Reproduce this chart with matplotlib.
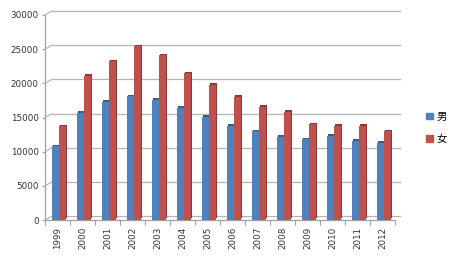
import numpy as np
import matplotlib
matplotlib.use("Agg")
import matplotlib.pyplot as plt
from matplotlib.transforms import ScaledTranslation
from matplotlib.patches import Patch

years = ["1999", "2000", "2001", "2002", "2003", "2004", "2005",
         "2006", "2007", "2008", "2009", "2010", "2011", "2012"]
male = [10800, 15700, 17300, 18100, 17600, 16400, 15100,
        13800, 13000, 12200, 11800, 12300, 11600, 11300]
female = [13700, 21100, 23200, 25400, 24100, 21500, 19800,
          18000, 16600, 15800, 14000, 13800, 13800, 13000]
yticks = [0, 5000, 10000, 15000, 20000, 25000, 30000]
labels = ["男", "女"]

fig = plt.figure(figsize=(4.5, 2.61), dpi=100)
ax = fig.add_axes([45 / 450, 1 - 220 / 261, 350 / 450, 205 / 261])
ax.set_xlim(-0.5, len(years) - 0.5)
ax.set_ylim(0, 30000)

# back wall gridlines (shifted up/right for the 3d look)
wall = ax.get_yaxis_transform() + ScaledTranslation(7 / 100, 4 / 100, fig.dpi_scale_trans)
for v in yticks:
    ax.plot([0, 1.0 - 2 / 350], [v, v], color="#b4b4b4", lw=0.9,
            transform=wall, clip_on=False, zorder=0)
    ax.annotate("", xy=(0, v), xycoords=ax.get_yaxis_transform(),
                xytext=(7, 4), textcoords="offset pixels",
                arrowprops=dict(arrowstyle="-", color="#b4b4b4", lw=0.9,
                                shrinkA=0, shrinkB=0))

x = np.arange(len(years))
w = 0.28
dx, dy = 0.07, 230
ax.bar(x - 0.1 + dx, male, w, bottom=dy, color="#385d8a", zorder=2)
ax.bar(x - 0.1, male, w, color="#4f81bd", zorder=3)
ax.bar(x + 0.18 + dx, female, w, bottom=dy, color="#8c3836", zorder=4)
ax.bar(x + 0.18, female, w, color="#c0504d", zorder=5)

for s in ["top", "right"]:
    ax.spines[s].set_visible(False)
for s in ["left", "bottom"]:
    ax.spines[s].set_color("#a0a0a0")
    ax.spines[s].set_linewidth(0.9)

ax.set_yticks(yticks)
ax.set_yticklabels([str(v) for v in yticks])
ax.tick_params(axis="y", length=2.5, width=0.8, color="#a0a0a0",
               labelsize=6.3, labelcolor="#333333", pad=2)
ax.set_xticks(x)
ax.set_xticklabels(years, rotation=90)
ax.tick_params(axis="x", which="major", length=0, labelsize=6.3,
               labelcolor="#333333", pad=5)
ax.set_xticks(np.arange(-0.5, len(years)), minor=True)
ax.tick_params(axis="x", which="minor", length=3.5, width=0.8, color="#a0a0a0")

handles = [Patch(color="#4f81bd"), Patch(color="#c0504d")]
fig.legend(handles, labels, loc="center left", bbox_to_anchor=(417 / 450, 1 - 128 / 261),
           frameon=False, handlelength=0.6, handleheight=0.6, handletextpad=0.4,
           labelspacing=1.2, prop={"family": ["Noto Sans CJK JP", "DejaVu Sans"], "size": 7.5})

fig.savefig("out.png", dpi=100)
